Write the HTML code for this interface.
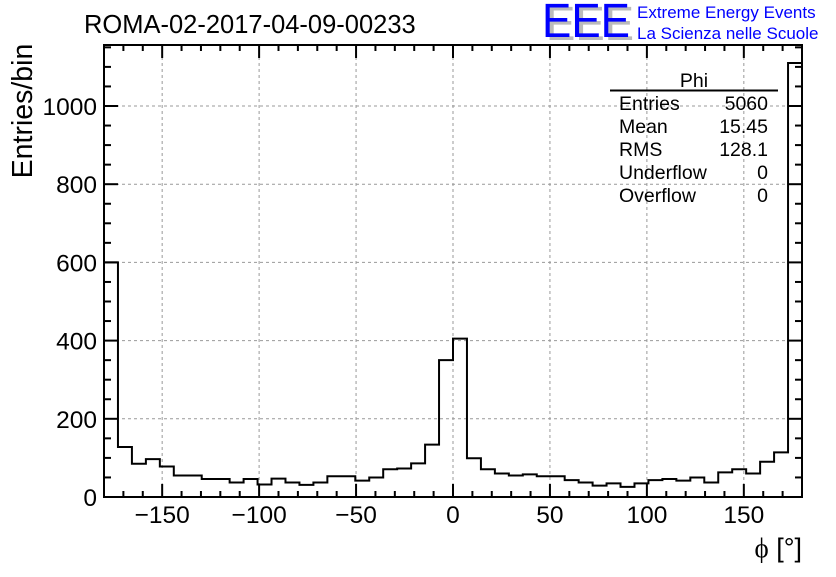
<!DOCTYPE html>
<html><head><meta charset="utf-8"><style>
body{margin:0;background:#fff;}
svg text{font-family:"Liberation Sans",sans-serif;}
</style></head><body>
<svg id="c" width="836" height="572" xmlns="http://www.w3.org/2000/svg">
<rect width="836" height="572" fill="#fff"/>
<g id="grid"></g>
<g id="hist"></g>
<g id="axes"></g>
<text x="84" y="33" font-size="25.5">ROMA-02-2017-04-09-00233</text>
<g>
<text x="546" y="40" font-size="48" fill="#bbb" textLength="88" lengthAdjust="spacingAndGlyphs">EEE</text>
<text x="542" y="37" font-size="48" fill="#0000ff" textLength="88" lengthAdjust="spacingAndGlyphs">EEE</text>
<text x="637" y="18" font-size="17" fill="#0000ff">Extreme Energy Events</text>
<text x="637" y="39" font-size="17" fill="#0000ff">La Scienza nelle Scuole</text>
</g>
<g font-size="19.5">
<text x="694" y="87" text-anchor="middle">Phi</text>
<line x1="610" y1="90.5" x2="778" y2="90.5" stroke="#000" stroke-width="2"/>
<text x="619" y="110">Entries</text><text x="768" y="110" text-anchor="end">5060</text>
<text x="619" y="133">Mean</text><text x="768" y="133" text-anchor="end">15.45</text>
<text x="619" y="156">RMS</text><text x="768" y="156" text-anchor="end">128.1</text>
<text x="619" y="179">Underflow</text><text x="768" y="179" text-anchor="end">0</text>
<text x="619" y="202">Overflow</text><text x="768" y="202" text-anchor="end">0</text>
</g>
<text transform="translate(32,111) rotate(-90)" text-anchor="middle" font-size="28.5">Entries/bin</text>
<text x="802" y="557" text-anchor="end" font-size="27"><tspan font-family="Liberation Serif,serif">ϕ</tspan> [°]</text>
</svg>
<script>
const binCounts=[600,128,85,97,78,55,55,46,46,37,46,32,47,37,31,37,53,53,42,50,71,73,86,134,350,405,99,71,60,55,58,53,53,43,37,29,35,26,35,43,46,42,50,37,63,71,60,90,114,1110];
const xTicks=[-150,-100,-50,0,50,100,150];
const yTicks=[0,200,400,600,800,1000];
const xMin=-180,xMax=180,yMin=0,yMax=1156;
const L=104,R=802,T=45,B=497;
const sx=v=>L+(v-xMin)/(xMax-xMin)*(R-L);
const sy=v=>B-(v-yMin)/(yMax-yMin)*(B-T);
const NS="http://www.w3.org/2000/svg";
function mk(t,a,p){const e=document.createElementNS(NS,t);for(const k in a)e.setAttribute(k,a[k]);p.appendChild(e);return e;}
const grid=document.getElementById('grid'),hist=document.getElementById('hist'),axes=document.getElementById('axes');
xTicks.forEach(v=>{const l=mk('line',{x1:sx(v),x2:sx(v),y1:T,y2:B,stroke:'#999','stroke-dasharray':'3,3'},grid);

});
yTicks.slice(1).forEach(v=>{const l=mk('line',{x1:L,x2:R,y1:sy(v),y2:sy(v),stroke:'#999','stroke-dasharray':'3,3'},grid);

});
const n=binCounts.length,w=(xMax-xMin)/n;
let d='M'+sx(xMin)+','+sy(0);
binCounts.forEach((c,i)=>{d+=' L'+sx(xMin+i*w)+','+sy(c)+' L'+sx(xMin+(i+1)*w)+','+sy(c);});
d+=' L'+sx(xMax)+','+sy(0);
const p=mk('path',{d:d,fill:'none',stroke:'#000','stroke-width':2},hist);


const fr=mk('rect',{x:L,y:T,width:R-L,height:B-T,fill:'none',stroke:'#000','stroke-width':2},axes);


for(let v=-180;v<=180;v+=10){const maj=v%50===0;const len=maj?13:6;
mk('line',{x1:sx(v),x2:sx(v),y1:B,y2:B-len,stroke:'#000','stroke-width':2},axes);
mk('line',{x1:sx(v),x2:sx(v),y1:T,y2:T+len,stroke:'#000','stroke-width':2},axes);}
for(let v=0;v<=1150;v+=50){const maj=v%200===0;const len=maj?14:7;
mk('line',{x1:L,x2:L+len,y1:sy(v),y2:sy(v),stroke:'#000','stroke-width':2},axes);
mk('line',{x1:R,x2:R-len,y1:sy(v),y2:sy(v),stroke:'#000','stroke-width':2},axes);}
xTicks.forEach(v=>{const t=mk('text',{x:sx(v),y:523,'text-anchor':'middle','font-size':24.5},axes);t.textContent=v<0?'\u2212'+(-v):String(v);

});
yTicks.forEach(v=>{const t=mk('text',{x:97,y:sy(v)+9,'text-anchor':'end','font-size':24.5},axes);t.textContent=String(v);

});
</script>
</body></html>
